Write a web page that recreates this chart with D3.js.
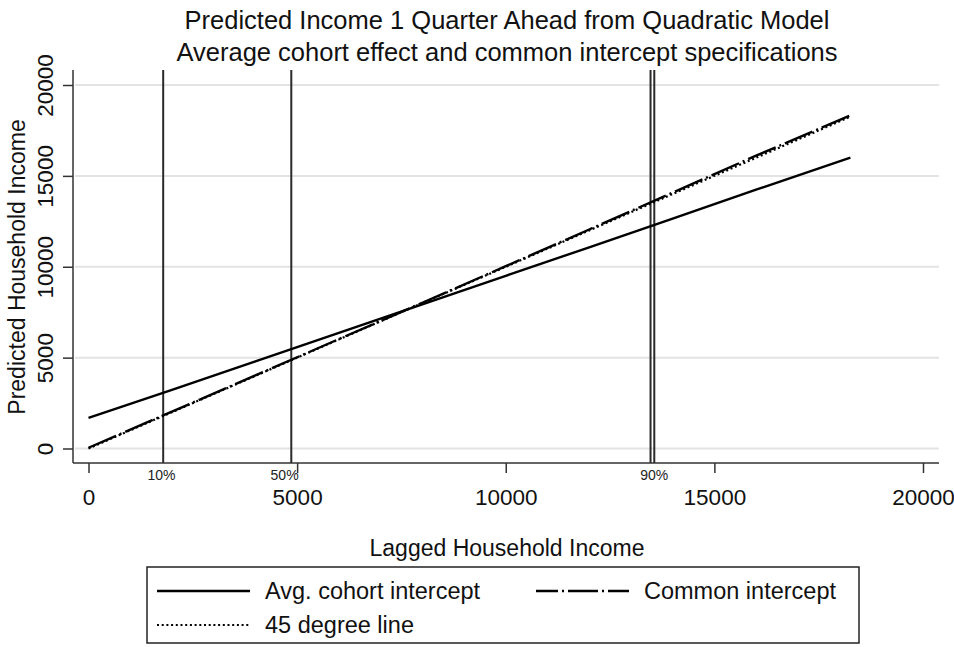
<!DOCTYPE html>
<html>
<head>
<meta charset="utf-8">
<script src="https://cdn.jsdelivr.net/npm/d3@7"></script>
<style>
  html, body { margin: 0; padding: 0; background: #fff; }
  svg { display: block; font-family: "Liberation Sans", Arial, Helvetica, sans-serif; }
</style>
</head>
<body>
<svg id="chart" width="954" height="647"></svg>
<script>
// Lagged household income grid (x) and predicted income for each specification
const laggedIncome     = [0, 2000, 4000, 6000, 8000, 10000, 12000, 14000, 16000, 18260];
const avgCohortPred    = [1680, 3230, 4790, 6360, 7930, 9500, 11070, 12650, 14240, 16010];
const commonInterPred  = [40, 2030, 4020, 6020, 8020, 10030, 12050, 14080, 16110, 18330];
const degree45         = [0, 2000, 4000, 6000, 8000, 10000, 12000, 14000, 16000, 18260];

// Percentile reference lines of lagged income
const pctValues = [1790, 4860, 13470, 13560];
const pctLabels = [
  { text: "10%", value: 1750 },
  { text: "50%", value: 4700 },
  { text: "90%", value: 13560 }
];

const xTicks = [0, 5000, 10000, 15000, 20000];
const yTicks = [0, 5000, 10000, 15000, 20000];

const titleLines = [
  "Predicted Income 1 Quarter Ahead from Quadratic Model",
  "Average cohort effect and common intercept specifications"
];

const DASH_DOT = "30,4,2,4";
const DOTTED = "2,2.7";

const legendItems = [
  { label: "Avg. cohort intercept", dash: null, offset: 0, width: 2.4 },
  { label: "Common intercept", dash: DASH_DOT, offset: 8, width: 2.4 },
  { label: "45 degree line", dash: DOTTED, offset: 0, width: 2 }
];

const svg = d3.select("#chart");
const plot = { left: 73, right: 939, top: 70, bottom: 463 };

const x = d3.scaleLinear().domain([0, 20000]).range([88.5, 923]);
const y = d3.scaleLinear().domain([0, 20000]).range([448.5, 85]);

// Title
svg.selectAll("text.title").data(titleLines).join("text")
  .attr("class", "title")
  .attr("x", 507).attr("y", (d, i) => 29 + i * 32)
  .attr("text-anchor", "middle")
  .attr("font-size", 25.5)
  .attr("fill", "#111")
  .text(d => d);

// Horizontal gridlines
svg.append("g").selectAll("line").data(yTicks).join("line")
  .attr("x1", plot.left + 2).attr("x2", plot.right)
  .attr("y1", d => y(d)).attr("y2", d => y(d))
  .attr("stroke", "#e3e3e3").attr("stroke-width", 2);

// Axes
const yAxis = d3.axisLeft(y).tickValues(yTicks).tickSize(10).tickSizeOuter(0).tickFormat(d3.format("d"));
const gy = svg.append("g").attr("transform", `translate(${plot.left},0)`).call(yAxis);
gy.select(".domain").attr("d", `M0,${plot.top}V${plot.bottom}`);
gy.selectAll(".tick line").attr("stroke", "#333").attr("stroke-width", 1.5);
gy.selectAll(".tick text")
  .attr("font-size", 22.5).attr("fill", "#111")
  .attr("x", null).attr("dy", null)
  .attr("transform", "translate(-20,0) rotate(-90)")
  .attr("text-anchor", "middle")
  .attr("y", 0);

const xAxis = d3.axisBottom(x).tickValues(xTicks).tickSize(10).tickSizeOuter(0).tickFormat(d3.format("d"));
const gx = svg.append("g").attr("transform", `translate(0,${plot.bottom})`).call(xAxis);
gx.select(".domain").attr("d", `M${plot.left},0H${plot.right}`);
gx.selectAll(".tick line").attr("stroke", "#333").attr("stroke-width", 1.5);
gx.selectAll(".tick text")
  .attr("font-size", 22.5).attr("fill", "#111")
  .attr("y", 42).attr("dy", null);

svg.selectAll(".domain").attr("stroke", "#333").attr("stroke-width", 1.5);

// Percentile reference lines
svg.append("g").selectAll("line").data(pctValues).join("line")
  .attr("x1", d => x(d)).attr("x2", d => x(d))
  .attr("y1", plot.top).attr("y2", plot.bottom)
  .attr("stroke", "#2a2a2a").attr("stroke-width", 2);

svg.append("g").selectAll("text").data(pctLabels).join("text")
  .attr("x", d => x(d.value)).attr("y", plot.bottom + 17)
  .attr("text-anchor", "middle")
  .attr("font-size", 14).attr("fill", "#222")
  .text(d => d.text);

// Prediction lines
const lineGen = vals => d3.line()
  .x((d, i) => x(laggedIncome[i]))
  .y(d => y(d))(vals);

const series = [
  { vals: degree45, dash: DOTTED, width: 2.2 },
  { vals: commonInterPred, dash: DASH_DOT, width: 2.4 },
  { vals: avgCohortPred, dash: null, width: 2.4 }
];
svg.append("g").selectAll("path").data(series).join("path")
  .attr("d", d => lineGen(d.vals))
  .attr("fill", "none").attr("stroke", "#000")
  .attr("stroke-width", d => d.width)
  .attr("stroke-dasharray", d => d.dash);

// Axis titles
svg.append("text")
  .attr("x", 507).attr("y", 556)
  .attr("text-anchor", "middle").attr("font-size", 23).attr("fill", "#111")
  .text("Lagged Household Income");

svg.append("text")
  .attr("transform", "translate(25,267) rotate(-90)")
  .attr("text-anchor", "middle").attr("font-size", 23).attr("fill", "#111")
  .text("Predicted Household Income");

// Legend
const lg = svg.append("g");
lg.append("rect")
  .attr("x", 147).attr("y", 567).attr("width", 712).attr("height", 76)
  .attr("fill", "#fff").attr("stroke", "#222").attr("stroke-width", 1.5);

const legendPos = [
  { x: 157, y: 591 },
  { x: 536, y: 591 },
  { x: 157, y: 625 }
];
legendItems.forEach((it, i) => {
  const p = legendPos[i];
  lg.append("line")
    .attr("x1", p.x).attr("x2", p.x + 93)
    .attr("y1", p.y).attr("y2", p.y)
    .attr("stroke", "#000").attr("stroke-width", it.width)
    .attr("stroke-dasharray", it.dash)
    .attr("stroke-dashoffset", it.offset);
  lg.append("text")
    .attr("x", p.x + 108).attr("y", p.y + 8)
    .attr("font-size", 23.5).attr("fill", "#111")
    .text(it.label);
});
</script>
</body>
</html>
